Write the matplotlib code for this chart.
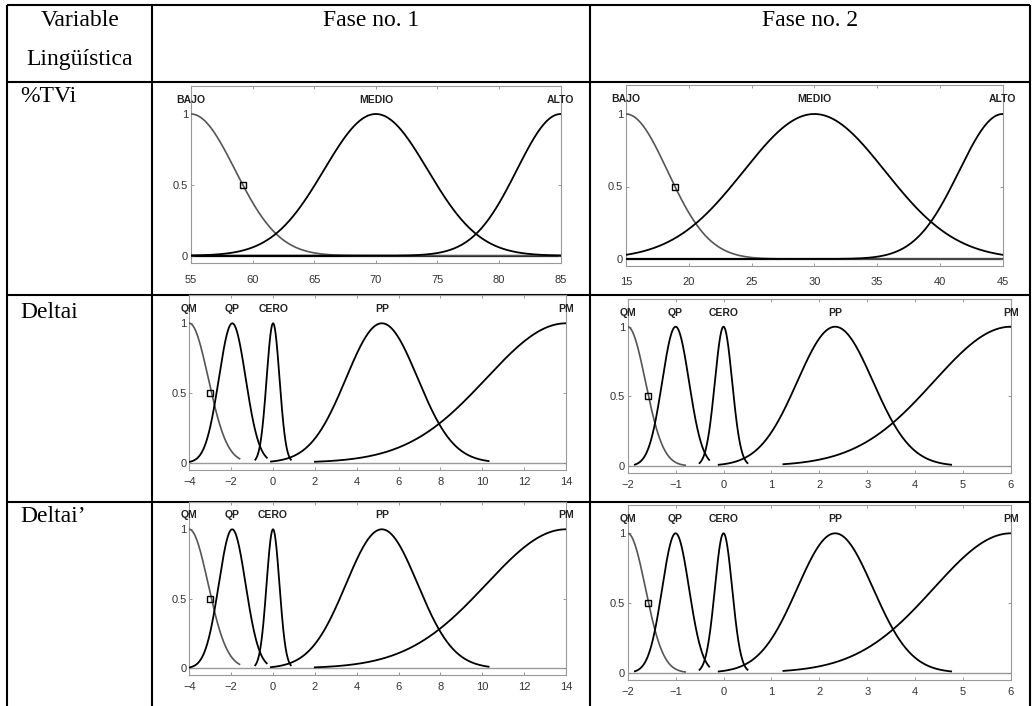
import numpy as np
import matplotlib.pyplot as plt

# %TVi
tvi_nombres = ["BAJO", "MEDIO", "ALTO"]
tvi_f1_rango = [55, 85]
tvi_f1_centros = [55, 70, 85]
tvi_f1_sigmas = [3.57, 4.2, 3.55]
tvi_f1_ticks = [55, 60, 65, 70, 75, 80, 85]
tvi_f1_marca = [59.2, 0.5]

tvi_f2_rango = [15, 45]
tvi_f2_centros = [15, 30, 45]
tvi_f2_sigmas = [3.31, 5.63, 3.47]
tvi_f2_ticks = [15, 20, 25, 30, 35, 40, 45]
tvi_f2_marca = [18.9, 0.5]

# Deltai (Deltai' usa las mismas funciones)
delta_nombres = ["QM", "QP", "CERO", "PP", "PM"]
delta_f1_rango = [-4, 14]
delta_f1_centros = [-4, -1.95, 0, 5.2, 14]
delta_f1_sigmas = [0.9, 0.64, 0.307, 1.71, 3.8]
delta_f1_desde = [-4, -4, -0.85, -0.1, 2]
delta_f1_hasta = [-1.6, -0.3, 0.85, 10.3, 14]
delta_f1_ticks = [-4, -2, 0, 2, 4, 6, 8, 10, 12, 14]
delta_f1_marca = [-3.0, 0.5]

delta_f2_rango = [-2, 6]
delta_f2_centros = [-2, -1.0, 0, 2.33, 6]
delta_f2_sigmas = [0.37, 0.28, 0.18, 0.79, 1.61]
delta_f2_desde = [-2, -1.85, -0.5, -0.1, 1.25]
delta_f2_hasta = [-0.8, -0.3, 0.5, 4.75, 6]
delta_f2_ticks = [-2, -1, 0, 1, 2, 3, 4, 5, 6]
delta_f2_marca = [-1.57, 0.5]

W, H = 1033, 706
fig = plt.figure(figsize=(W / 100, H / 100), dpi=100)

# tabla de fondo en coordenadas de pixel
tab = fig.add_axes([0, 0, 1, 1])
tab.set_xlim(0, W)
tab.set_ylim(H, 0)
tab.axis("off")

lw_tab = 1.5
for y in [5, 81.7, 295, 501.7]:
    tab.plot([6.7, 1030], [y, y], color="black", lw=lw_tab, solid_capstyle="butt")
for x in [6.7, 151.7, 590, 1030]:
    tab.plot([x, x], [5, H], color="black", lw=lw_tab, solid_capstyle="butt")

serif = "Liberation Serif"
tab.text(80, 21, "Variable", ha="center", va="center", fontsize=17, family=serif)
tab.text(80, 59, "Lingüística", ha="center", va="center", fontsize=17, family=serif)
tab.text(371, 21, "Fase no. 1", ha="center", va="center", fontsize=17, family=serif)
tab.text(810, 21, "Fase no. 2", ha="center", va="center", fontsize=17, family=serif)
tab.text(20, 97, "%TVi", ha="left", va="center", fontsize=17, family=serif)
tab.text(20, 312, "Deltai", ha="left", va="center", fontsize=17, family=serif)
tab.text(20, 517, "Deltai\u2019", ha="left", va="center", fontsize=17, family=serif)


def gauss(x, c, s):
    return np.exp(-(x - c) ** 2 / (2 * s ** 2))


def panel(px, rango, nombres, centros, sigmas, ticks, marca, desde=None, hasta=None, xpad=5):
    # px = (x en xmin, x en xmax, y del 0, y del 1) en pixeles
    x0, x1, y0, y1 = px
    u = y0 - y1
    abajo = y0 + 0.05 * u
    arriba = y0 - 1.2 * u
    ax = fig.add_axes([x0 / W, 1 - abajo / H, (x1 - x0) / W, (abajo - arriba) / H])
    ax.set_facecolor("none")
    ax.set_xlim(rango)
    ax.set_ylim(-0.05, 1.2)

    if desde is None:
        ax.axhline(0, color="black", lw=1.6, zorder=1)
    else:
        ax.axhline(0, color="#9a9a9a", lw=1.0, zorder=1)

    for i, nombre in enumerate(nombres):
        a = rango[0] if desde is None else desde[i]
        b = rango[1] if hasta is None else hasta[i]
        xs = np.linspace(a, b, 400)
        color = "#555555" if i == 0 else "black"
        ax.plot(xs, gauss(xs, centros[i], sigmas[i]), color=color,
                lw=1.2 if i == 0 else 1.3, zorder=3)
        ax.text(centros[i], 1.1, nombre, ha="center", va="center", fontsize=7.5,
                fontweight="bold", family="Liberation Sans", color="#222222")

    ax.plot(marca[0], marca[1], marker="s", ms=5, mfc="none", mec="black",
            mew=1.0, zorder=4)

    ax.set_xticks(ticks)
    ax.set_yticks([0, 0.5, 1])
    ax.set_yticklabels(["0", "0.5", "1"])
    ax.tick_params(direction="in", length=2.5, width=0.6, colors="#888888",
                   labelcolor="#333333", labelsize=8, top=True, right=True)
    ax.tick_params(axis="x", pad=xpad)
    ax.tick_params(axis="y", pad=2)
    for lab in ax.get_xticklabels() + ax.get_yticklabels():
        lab.set_family("Liberation Sans")
    for sp in ax.spines.values():
        sp.set_color("#999999")
        sp.set_linewidth(0.8)
    return ax


panel((191, 560.7, 255.7, 114), tvi_f1_rango, tvi_nombres, tvi_f1_centros,
      tvi_f1_sigmas, tvi_f1_ticks, tvi_f1_marca, xpad=9)
panel((626, 1002.7, 259, 114), tvi_f2_rango, tvi_nombres, tvi_f2_centros,
      tvi_f2_sigmas, tvi_f2_ticks, tvi_f2_marca, xpad=8)
panel((189.4, 566, 462.7, 323.3), delta_f1_rango, delta_nombres, delta_f1_centros,
      delta_f1_sigmas, delta_f1_ticks, delta_f1_marca, delta_f1_desde, delta_f1_hasta)
panel((627.7, 1011, 466, 326.7), delta_f2_rango, delta_nombres, delta_f2_centros,
      delta_f2_sigmas, delta_f2_ticks, delta_f2_marca, delta_f2_desde, delta_f2_hasta)
panel((189.3, 566, 668.3, 529.3), delta_f1_rango, delta_nombres, delta_f1_centros,
      delta_f1_sigmas, delta_f1_ticks, delta_f1_marca, delta_f1_desde, delta_f1_hasta)
panel((627.7, 1011, 672.7, 533.3), delta_f2_rango, delta_nombres, delta_f2_centros,
      delta_f2_sigmas, delta_f2_ticks, delta_f2_marca, delta_f2_desde, delta_f2_hasta)

fig.savefig("out.png", dpi=100)
